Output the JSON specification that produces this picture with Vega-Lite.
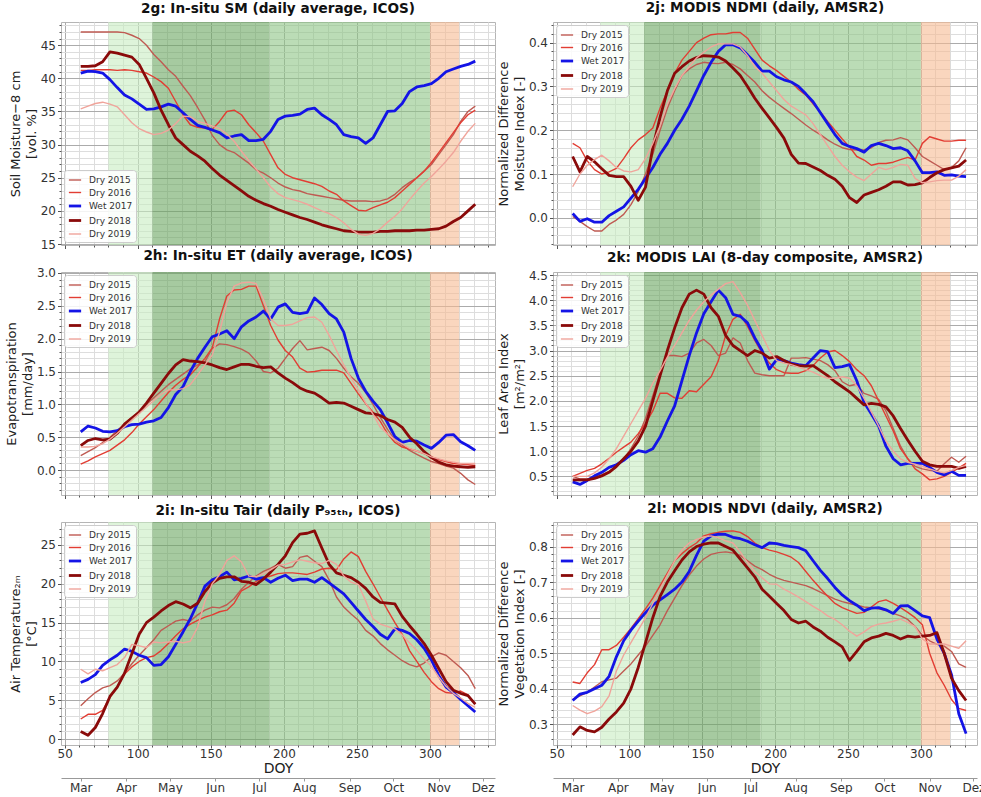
{
"$schema": "https://vega.github.io/schema/vega-lite/v6.json",
"padding": {"left": 4, "top": 0, "right": 0, "bottom": 0},
"datasets": {
"bands": [{"b":"a","x1":80,"x2":110},{"b":"b","x1":110,"x2":190},{"b":"c","x1":190,"x2":300},{"b":"d","x1":300,"x2":320}],
"g": [
{"d":61,"2015":47,"2016":41.2,"2017":40.8,"2018":41.8,"2019":35.4},
{"d":66,"2015":47,"2016":41.2,"2017":41.1,"2018":41.8,"2019":35.8},
{"d":71,"2015":47,"2016":41.3,"2017":41,"2018":41.9,"2019":36.2},
{"d":76,"2015":47,"2016":41.3,"2017":40.8,"2018":42.5,"2019":36.4},
{"d":81,"2015":47,"2016":41.3,"2017":39.8,"2018":44,"2019":36.1},
{"d":86,"2015":47,"2016":41.2,"2017":38.6,"2018":43.8,"2019":35.7},
{"d":91,"2015":46.9,"2016":41.3,"2017":37.5,"2018":43.5,"2019":34.5},
{"d":96,"2015":46.5,"2016":41.2,"2017":36.9,"2018":43.2,"2019":33.3},
{"d":101,"2015":46,"2016":41,"2017":36.1,"2018":42.1,"2019":32.4},
{"d":106,"2015":45,"2016":40.8,"2017":35.3,"2018":40,"2019":31.9},
{"d":111,"2015":43.6,"2016":40.2,"2017":35.4,"2018":37.8,"2019":31.5},
{"d":116,"2015":42.5,"2016":39.5,"2017":35.7,"2018":35.2,"2019":31.7},
{"d":121,"2015":41.3,"2016":38.5,"2017":36.1,"2018":33,"2019":32.2},
{"d":126,"2015":40.3,"2016":36.5,"2017":35.8,"2018":31,"2019":33.2},
{"d":131,"2015":38.8,"2016":34.5,"2017":34.8,"2018":30,"2019":34.3},
{"d":136,"2015":37.4,"2016":33,"2017":33.8,"2018":29,"2019":34.2},
{"d":141,"2015":35.6,"2016":32.6,"2017":32.9,"2018":28.3,"2019":33.5},
{"d":146,"2015":33.7,"2016":32.5,"2017":32.6,"2018":27.5,"2019":33.2},
{"d":151,"2015":31.4,"2016":32.3,"2017":32.2,"2018":26.4,"2019":32.8},
{"d":156,"2015":30,"2016":33.5,"2017":31.8,"2018":25.4,"2019":32.4},
{"d":161,"2015":29.2,"2016":35,"2017":31,"2018":24.6,"2019":31.6},
{"d":166,"2015":28.8,"2016":35.2,"2017":31.3,"2018":23.8,"2019":30.5},
{"d":171,"2015":28,"2016":34.5,"2017":31.5,"2018":23,"2019":29},
{"d":176,"2015":27.2,"2016":33,"2017":30.6,"2018":22.2,"2019":27.6},
{"d":181,"2015":26.2,"2016":31.8,"2017":30.6,"2018":21.6,"2019":26.3},
{"d":186,"2015":25.7,"2016":30.5,"2017":30.8,"2018":21.1,"2019":25},
{"d":191,"2015":25,"2016":28.5,"2017":32,"2018":20.7,"2019":23.6},
{"d":196,"2015":24.2,"2016":26.5,"2017":33.8,"2018":20.2,"2019":22.6},
{"d":201,"2015":23.6,"2016":25.5,"2017":34.3,"2018":19.8,"2019":22},
{"d":206,"2015":23.2,"2016":25,"2017":34.4,"2018":19.4,"2019":21.7},
{"d":211,"2015":23,"2016":24.7,"2017":34.6,"2018":19,"2019":21.4},
{"d":216,"2015":22.6,"2016":24.4,"2017":35.3,"2018":18.7,"2019":21},
{"d":221,"2015":22.4,"2016":24.1,"2017":35.5,"2018":18.3,"2019":20.5},
{"d":226,"2015":22.2,"2016":23.7,"2017":34.5,"2018":17.9,"2019":20},
{"d":231,"2015":22,"2016":23,"2017":33.8,"2018":17.6,"2019":19.6},
{"d":236,"2015":21.8,"2016":22.5,"2017":33,"2018":17.3,"2019":19},
{"d":241,"2015":21.6,"2016":21.5,"2017":31.5,"2018":17,"2019":18.2},
{"d":246,"2015":21.5,"2016":20.8,"2017":31.2,"2018":16.9,"2019":17.2},
{"d":251,"2015":21.5,"2016":20.1,"2017":31,"2018":16.8,"2019":16.5},
{"d":256,"2015":21.5,"2016":20,"2017":30.2,"2018":16.8,"2019":16.3},
{"d":261,"2015":21.4,"2016":20.5,"2017":31,"2018":16.8,"2019":16.6},
{"d":266,"2015":21.5,"2016":20.9,"2017":33,"2018":16.9,"2019":17.3},
{"d":271,"2015":21.8,"2016":21.3,"2017":35,"2018":16.9,"2019":18.3},
{"d":276,"2015":22.5,"2016":22,"2017":35.1,"2018":17,"2019":19.2},
{"d":281,"2015":23.5,"2016":23,"2017":36.2,"2018":17,"2019":20.3},
{"d":286,"2015":24.3,"2016":24,"2017":38,"2018":17,"2019":21.7},
{"d":291,"2015":25,"2016":25,"2017":38.7,"2018":17.1,"2019":23},
{"d":296,"2015":26,"2016":26,"2017":38.9,"2018":17.1,"2019":24.2},
{"d":301,"2015":27,"2016":27.3,"2017":39.2,"2018":17.2,"2019":25.2},
{"d":306,"2015":28.5,"2016":28.8,"2017":40,"2018":17.3,"2019":26.3},
{"d":311,"2015":30,"2016":30.3,"2017":41,"2018":17.7,"2019":27.5},
{"d":316,"2015":31.5,"2016":31.8,"2017":41.4,"2018":18.4,"2019":28.8},
{"d":321,"2015":33.5,"2016":33.3,"2017":41.8,"2018":19,"2019":30.5},
{"d":326,"2015":35,"2016":34.5,"2017":42.1,"2018":20,"2019":32},
{"d":331,"2015":35.8,"2016":35.2,"2017":42.6,"2018":21,"2019":33.2}
],
"h": [
{"d":61,"2015":0.22,"2016":0.09,"2017":0.58,"2018":0.37,"2019":0.35},
{"d":66,"2015":0.28,"2016":0.14,"2017":0.67,"2018":0.45,"2019":0.35},
{"d":71,"2015":0.34,"2016":0.2,"2017":0.64,"2018":0.48,"2019":0.36},
{"d":76,"2015":0.42,"2016":0.25,"2017":0.59,"2018":0.46,"2019":0.4},
{"d":81,"2015":0.5,"2016":0.3,"2017":0.58,"2018":0.47,"2019":0.47},
{"d":86,"2015":0.6,"2016":0.38,"2017":0.6,"2018":0.56,"2019":0.56},
{"d":91,"2015":0.71,"2016":0.46,"2017":0.66,"2018":0.7,"2019":0.66},
{"d":96,"2015":0.8,"2016":0.57,"2017":0.69,"2018":0.79,"2019":0.76},
{"d":101,"2015":0.9,"2016":0.7,"2017":0.7,"2018":0.88,"2019":0.86},
{"d":106,"2015":1.0,"2016":0.81,"2017":0.73,"2018":1.02,"2019":0.96},
{"d":111,"2015":1.1,"2016":0.92,"2017":0.75,"2018":1.17,"2019":1.06},
{"d":116,"2015":1.2,"2016":1.05,"2017":0.8,"2018":1.32,"2019":1.15},
{"d":121,"2015":1.3,"2016":1.18,"2017":0.95,"2018":1.47,"2019":1.22},
{"d":126,"2015":1.38,"2016":1.29,"2017":1.15,"2018":1.6,"2019":1.22},
{"d":131,"2015":1.46,"2016":1.38,"2017":1.27,"2018":1.68,"2019":1.24},
{"d":136,"2015":1.54,"2016":1.45,"2017":1.5,"2018":1.66,"2019":1.3},
{"d":141,"2015":1.6,"2016":1.57,"2017":1.7,"2018":1.65,"2019":1.45},
{"d":146,"2015":1.65,"2016":1.7,"2017":1.87,"2018":1.63,"2019":1.6},
{"d":151,"2015":1.85,"2016":1.86,"2017":2.03,"2018":1.6,"2019":1.75},
{"d":156,"2015":1.92,"2016":2.3,"2017":2.07,"2018":1.56,"2019":2.1},
{"d":161,"2015":1.91,"2016":2.65,"2017":2.12,"2018":1.53,"2019":2.55},
{"d":166,"2015":1.88,"2016":2.74,"2017":2.0,"2018":1.57,"2019":2.8},
{"d":171,"2015":1.84,"2016":2.75,"2017":2.18,"2018":1.61,"2019":2.85},
{"d":176,"2015":1.78,"2016":2.8,"2017":2.27,"2018":1.61,"2019":2.86},
{"d":181,"2015":1.66,"2016":2.8,"2017":2.33,"2018":1.58,"2019":2.84},
{"d":186,"2015":1.5,"2016":2.5,"2017":2.42,"2018":1.56,"2019":2.6},
{"d":191,"2015":1.48,"2016":2.2,"2017":2.3,"2018":1.57,"2019":2.3},
{"d":196,"2015":1.55,"2016":1.98,"2017":2.48,"2018":1.48,"2019":2.2},
{"d":201,"2015":1.7,"2016":1.82,"2017":2.53,"2018":1.4,"2019":2.2},
{"d":206,"2015":1.85,"2016":1.72,"2017":2.4,"2018":1.33,"2019":2.22},
{"d":211,"2015":1.97,"2016":1.55,"2017":2.38,"2018":1.25,"2019":2.27},
{"d":216,"2015":1.83,"2016":1.49,"2017":2.4,"2018":1.2,"2019":2.32},
{"d":221,"2015":1.85,"2016":1.5,"2017":2.62,"2018":1.17,"2019":2.33},
{"d":226,"2015":1.87,"2016":1.52,"2017":2.52,"2018":1.1,"2019":2.25},
{"d":231,"2015":1.82,"2016":1.52,"2017":2.38,"2018":1.02,"2019":2.05},
{"d":236,"2015":1.7,"2016":1.52,"2017":2.3,"2018":1.03,"2019":1.82},
{"d":241,"2015":1.55,"2016":1.48,"2017":2.1,"2018":1.02,"2019":1.6},
{"d":246,"2015":1.42,"2016":1.32,"2017":1.7,"2018":0.97,"2019":1.4},
{"d":251,"2015":1.32,"2016":1.16,"2017":1.4,"2018":0.92,"2019":1.22},
{"d":256,"2015":1.18,"2016":1.01,"2017":1.2,"2018":0.87,"2019":1.02},
{"d":261,"2015":1.0,"2016":0.88,"2017":1.05,"2018":0.86,"2019":0.85},
{"d":266,"2015":0.8,"2016":0.74,"2017":0.92,"2018":0.83,"2019":0.65},
{"d":271,"2015":0.62,"2016":0.55,"2017":0.72,"2018":0.77,"2019":0.55},
{"d":276,"2015":0.46,"2016":0.42,"2017":0.51,"2018":0.73,"2019":0.46},
{"d":281,"2015":0.38,"2016":0.35,"2017":0.42,"2018":0.65,"2019":0.4},
{"d":286,"2015":0.3,"2016":0.32,"2017":0.45,"2018":0.5,"2019":0.33},
{"d":291,"2015":0.24,"2016":0.29,"2017":0.44,"2018":0.4,"2019":0.29},
{"d":296,"2015":0.18,"2016":0.25,"2017":0.38,"2018":0.28,"2019":0.25},
{"d":301,"2015":0.13,"2016":0.2,"2017":0.33,"2018":0.19,"2019":0.2},
{"d":306,"2015":0.1,"2016":0.16,"2017":0.42,"2018":0.12,"2019":0.17},
{"d":311,"2015":0.06,"2016":0.13,"2017":0.53,"2018":0.08,"2019":0.14},
{"d":316,"2015":0.03,"2016":0.1,"2017":0.54,"2018":0.06,"2019":0.12},
{"d":321,"2015":-0.05,"2016":0.09,"2017":0.43,"2018":0.05,"2019":0.1},
{"d":326,"2015":-0.15,"2016":0.08,"2017":0.37,"2018":0.04,"2019":0.1},
{"d":331,"2015":-0.22,"2016":0.07,"2017":0.3,"2018":0.05,"2019":0.1}
],
"i": [
{"d":61,"2015":4.3,"2016":2.6,"2017":7.3,"2018":1,"2019":9},
{"d":66,"2015":5.2,"2016":3.2,"2017":7.7,"2018":0.5,"2019":8.4},
{"d":71,"2015":6,"2016":3.2,"2017":8.3,"2018":1.5,"2019":9},
{"d":76,"2015":6.6,"2016":3.7,"2017":9.5,"2018":3.3,"2019":8.8},
{"d":81,"2015":6.9,"2016":5.4,"2017":10.2,"2018":5.5,"2019":9.2},
{"d":86,"2015":7.5,"2016":6.7,"2017":10.8,"2018":6.7,"2019":9.6},
{"d":91,"2015":8.5,"2016":8.4,"2017":11.6,"2018":8.5,"2019":10.5},
{"d":96,"2015":9.7,"2016":9.3,"2017":11.3,"2018":11,"2019":12.2},
{"d":101,"2015":10.8,"2016":10,"2017":10.8,"2018":13.5,"2019":12},
{"d":106,"2015":11.8,"2016":10.5,"2017":10.5,"2018":15,"2019":11.8},
{"d":111,"2015":12.8,"2016":10.7,"2017":9.5,"2018":15.7,"2019":12.5},
{"d":116,"2015":14,"2016":11.4,"2017":9.6,"2018":16.5,"2019":12.4},
{"d":121,"2015":14.6,"2016":12.3,"2017":10.6,"2018":17.2,"2019":12.5},
{"d":126,"2015":15.2,"2016":13.3,"2017":12.2,"2018":17.7,"2019":12.6},
{"d":131,"2015":15.4,"2016":14.2,"2017":13.8,"2018":17.4,"2019":12.4},
{"d":136,"2015":15.2,"2016":14.8,"2017":15.5,"2018":16.9,"2019":12.6},
{"d":141,"2015":16,"2016":15.3,"2017":17.5,"2018":17.5,"2019":14.4},
{"d":146,"2015":16.6,"2016":15.7,"2017":19.7,"2018":19,"2019":17.8},
{"d":151,"2015":17,"2016":16,"2017":20.5,"2018":20.1,"2019":20},
{"d":156,"2015":16.9,"2016":16.4,"2017":20.9,"2018":20.7,"2019":21.2},
{"d":161,"2015":17.3,"2016":16.6,"2017":21.5,"2018":20.9,"2019":23},
{"d":166,"2015":18.1,"2016":17.5,"2017":20.5,"2018":20.9,"2019":23.6},
{"d":171,"2015":19.3,"2016":19.1,"2017":20.7,"2018":20.3,"2019":22.8},
{"d":176,"2015":20.2,"2016":19.6,"2017":21,"2018":20.2,"2019":21},
{"d":181,"2015":21,"2016":20.3,"2017":20.6,"2018":19.9,"2019":20.9},
{"d":186,"2015":21.6,"2016":20.8,"2017":20.8,"2018":20.6,"2019":21.3},
{"d":191,"2015":22,"2016":21,"2017":20.2,"2018":21.5,"2019":21.8},
{"d":196,"2015":22.5,"2016":21.3,"2017":20.7,"2018":22.5,"2019":22.4},
{"d":201,"2015":22,"2016":21.4,"2017":21.1,"2018":23.6,"2019":22.5},
{"d":206,"2015":22.2,"2016":21.4,"2017":20.4,"2018":25.3,"2019":22.8},
{"d":211,"2015":23.4,"2016":21.3,"2017":20.6,"2018":26.4,"2019":23.1},
{"d":216,"2015":23.6,"2016":21.2,"2017":20.6,"2018":26.5,"2019":22.9},
{"d":221,"2015":22.9,"2016":21.5,"2017":20.2,"2018":26.8,"2019":22.7},
{"d":226,"2015":22.2,"2016":21.9,"2017":20.8,"2018":24.6,"2019":22.6},
{"d":231,"2015":20.5,"2016":22,"2017":20.1,"2018":22.5,"2019":23},
{"d":236,"2015":18.3,"2016":21.8,"2017":19.4,"2018":21.4,"2019":22.5},
{"d":241,"2015":17,"2016":23.2,"2017":18.7,"2018":21.1,"2019":21},
{"d":246,"2015":16.1,"2016":24.1,"2017":17.6,"2018":20.8,"2019":20.2},
{"d":251,"2015":15.3,"2016":23.5,"2017":16.5,"2018":20.2,"2019":19.9},
{"d":256,"2015":14,"2016":21.6,"2017":15.4,"2018":19.4,"2019":17.8},
{"d":261,"2015":13.3,"2016":20,"2017":14.5,"2018":18.3,"2019":15.5},
{"d":266,"2015":12.3,"2016":18.3,"2017":13.5,"2018":17.6,"2019":14.8},
{"d":271,"2015":11.5,"2016":16.6,"2017":12.9,"2018":17.5,"2019":14.5},
{"d":276,"2015":10.8,"2016":15,"2017":14.2,"2018":17.4,"2019":14.2},
{"d":281,"2015":10.1,"2016":13.5,"2017":14,"2018":15.8,"2019":13.4},
{"d":286,"2015":9.6,"2016":11.4,"2017":13.6,"2018":14.6,"2019":12.4},
{"d":291,"2015":9.3,"2016":10,"2017":12.8,"2018":13.5,"2019":11.4},
{"d":296,"2015":9.8,"2016":8.6,"2017":11.7,"2018":12.3,"2019":10.3},
{"d":301,"2015":10.6,"2016":7.4,"2017":10.2,"2018":10.8,"2019":9.4},
{"d":306,"2015":11.1,"2016":6.5,"2017":8.2,"2018":9.1,"2019":8},
{"d":311,"2015":10.8,"2016":6,"2017":6.7,"2018":7.4,"2019":6.8},
{"d":316,"2015":10,"2016":5.9,"2017":6,"2018":6.3,"2019":5.9},
{"d":321,"2015":9.2,"2016":6.2,"2017":5.1,"2018":5.9,"2019":5.3},
{"d":326,"2015":8.2,"2016":5.7,"2017":4.3,"2018":5.6,"2019":4.6},
{"d":331,"2015":6.5,"2016":4.5,"2017":3.5,"2018":4.5,"2019":4.1}
],
"j": [
{"d":61,"2015":0.003,"2016":0.17,"2017":0.01,"2018":0.14,"2019":0.071},
{"d":66,"2015":-0.008,"2016":0.16,"2017":-0.008,"2018":0.105,"2019":0.1},
{"d":71,"2015":-0.02,"2016":0.13,"2017":-0.002,"2018":0.14,"2019":0.12},
{"d":76,"2015":-0.03,"2016":0.11,"2017":-0.01,"2018":0.128,"2019":0.133},
{"d":81,"2015":-0.03,"2016":0.1,"2017":-0.01,"2018":0.112,"2019":0.143},
{"d":86,"2015":-0.015,"2016":0.105,"2017":0.005,"2018":0.097,"2019":0.13},
{"d":91,"2015":-0.005,"2016":0.113,"2017":0.015,"2018":0.094,"2019":0.115},
{"d":96,"2015":0.008,"2016":0.135,"2017":0.025,"2018":0.094,"2019":0.107},
{"d":101,"2015":0.03,"2016":0.16,"2017":0.045,"2018":0.072,"2019":0.105},
{"d":106,"2015":0.06,"2016":0.178,"2017":0.065,"2018":0.04,"2019":0.11},
{"d":111,"2015":0.1,"2016":0.19,"2017":0.09,"2018":0.07,"2019":0.135},
{"d":116,"2015":0.145,"2016":0.205,"2017":0.115,"2018":0.16,"2019":0.17},
{"d":121,"2015":0.2,"2016":0.25,"2017":0.145,"2018":0.23,"2019":0.21},
{"d":126,"2015":0.25,"2016":0.29,"2017":0.17,"2018":0.29,"2019":0.26},
{"d":131,"2015":0.29,"2016":0.33,"2017":0.2,"2018":0.33,"2019":0.295},
{"d":136,"2015":0.325,"2016":0.36,"2017":0.225,"2018":0.345,"2019":0.325},
{"d":141,"2015":0.34,"2016":0.38,"2017":0.255,"2018":0.358,"2019":0.345},
{"d":146,"2015":0.35,"2016":0.4,"2017":0.29,"2018":0.366,"2019":0.365},
{"d":151,"2015":0.355,"2016":0.41,"2017":0.325,"2018":0.37,"2019":0.378},
{"d":156,"2015":0.353,"2016":0.418,"2017":0.355,"2018":0.369,"2019":0.39},
{"d":161,"2015":0.352,"2016":0.42,"2017":0.38,"2018":0.367,"2019":0.397},
{"d":166,"2015":0.355,"2016":0.42,"2017":0.395,"2018":0.358,"2019":0.397},
{"d":171,"2015":0.35,"2016":0.423,"2017":0.395,"2018":0.342,"2019":0.397},
{"d":176,"2015":0.34,"2016":0.423,"2017":0.388,"2018":0.325,"2019":0.39},
{"d":181,"2015":0.325,"2016":0.41,"2017":0.372,"2018":0.3,"2019":0.37},
{"d":186,"2015":0.31,"2016":0.385,"2017":0.355,"2018":0.273,"2019":0.345},
{"d":191,"2015":0.29,"2016":0.36,"2017":0.335,"2018":0.25,"2019":0.33},
{"d":196,"2015":0.275,"2016":0.347,"2017":0.335,"2018":0.228,"2019":0.31},
{"d":201,"2015":0.262,"2016":0.336,"2017":0.322,"2018":0.206,"2019":0.29},
{"d":206,"2015":0.25,"2016":0.323,"2017":0.315,"2018":0.182,"2019":0.27},
{"d":211,"2015":0.238,"2016":0.31,"2017":0.31,"2018":0.145,"2019":0.255},
{"d":216,"2015":0.225,"2016":0.293,"2017":0.3,"2018":0.125,"2019":0.245},
{"d":221,"2015":0.212,"2016":0.28,"2017":0.283,"2018":0.124,"2019":0.235},
{"d":226,"2015":0.2,"2016":0.26,"2017":0.265,"2018":0.116,"2019":0.215},
{"d":231,"2015":0.19,"2016":0.242,"2017":0.24,"2018":0.108,"2019":0.19},
{"d":236,"2015":0.178,"2016":0.22,"2017":0.215,"2018":0.097,"2019":0.165},
{"d":241,"2015":0.168,"2016":0.2,"2017":0.19,"2018":0.088,"2019":0.14},
{"d":246,"2015":0.16,"2016":0.18,"2017":0.17,"2018":0.072,"2019":0.12},
{"d":251,"2015":0.156,"2016":0.162,"2017":0.163,"2018":0.046,"2019":0.105},
{"d":256,"2015":0.155,"2016":0.14,"2017":0.158,"2018":0.035,"2019":0.093},
{"d":261,"2015":0.155,"2016":0.132,"2017":0.15,"2018":0.052,"2019":0.085},
{"d":266,"2015":0.16,"2016":0.12,"2017":0.165,"2018":0.058,"2019":0.1},
{"d":271,"2015":0.172,"2016":0.124,"2017":0.17,"2018":0.064,"2019":0.115},
{"d":276,"2015":0.177,"2016":0.124,"2017":0.165,"2018":0.072,"2019":0.11},
{"d":281,"2015":0.178,"2016":0.127,"2017":0.158,"2018":0.082,"2019":0.115},
{"d":286,"2015":0.183,"2016":0.133,"2017":0.16,"2018":0.082,"2019":0.122},
{"d":291,"2015":0.178,"2016":0.138,"2017":0.153,"2018":0.075,"2019":0.12},
{"d":296,"2015":0.16,"2016":0.132,"2017":0.13,"2018":0.076,"2019":0.09},
{"d":301,"2015":0.14,"2016":0.17,"2017":0.103,"2018":0.08,"2019":0.08},
{"d":306,"2015":0.13,"2016":0.185,"2017":0.103,"2018":0.092,"2019":0.082},
{"d":311,"2015":0.12,"2016":0.18,"2017":0.105,"2018":0.103,"2019":0.085},
{"d":316,"2015":0.11,"2016":0.175,"2017":0.097,"2018":0.11,"2019":0.086},
{"d":321,"2015":0.115,"2016":0.175,"2017":0.098,"2018":0.114,"2019":0.086},
{"d":326,"2015":0.13,"2016":0.177,"2017":0.095,"2018":0.118,"2019":0.095},
{"d":331,"2015":0.16,"2016":0.177,"2017":0.094,"2018":0.132,"2019":0.11}
],
"k": [
{"d":61,"2015":0.5,"2016":0.5,"2017":0.39,"2018":0.43,"2019":0.5},
{"d":66,"2015":0.45,"2016":0.56,"2017":0.34,"2018":0.43,"2019":0.5},
{"d":71,"2015":0.45,"2016":0.62,"2017":0.42,"2018":0.43,"2019":0.5},
{"d":76,"2015":0.48,"2016":0.66,"2017":0.51,"2018":0.46,"2019":0.57},
{"d":81,"2015":0.53,"2016":0.75,"2017":0.58,"2018":0.51,"2019":0.68},
{"d":86,"2015":0.6,"2016":0.86,"2017":0.68,"2018":0.58,"2019":0.85},
{"d":91,"2015":0.68,"2016":0.98,"2017":0.73,"2018":0.7,"2019":1.05},
{"d":96,"2015":0.84,"2016":1.08,"2017":0.82,"2018":0.85,"2019":1.3},
{"d":101,"2015":1.05,"2016":1.18,"2017":0.93,"2018":1.0,"2019":1.55},
{"d":106,"2015":1.3,"2016":1.35,"2017":1.01,"2018":1.2,"2019":1.8},
{"d":111,"2015":1.65,"2016":1.55,"2017":0.98,"2018":1.5,"2019":2.05},
{"d":116,"2015":2.1,"2016":1.8,"2017":1.05,"2018":2.0,"2019":2.35},
{"d":121,"2015":2.55,"2016":2.15,"2017":1.28,"2018":2.5,"2019":2.6},
{"d":126,"2015":2.9,"2016":2.15,"2017":1.6,"2018":3.0,"2019":2.87},
{"d":131,"2015":2.9,"2016":2.06,"2017":1.9,"2018":3.45,"2019":3.1},
{"d":136,"2015":2.88,"2016":2.05,"2017":2.4,"2018":3.85,"2019":3.35},
{"d":141,"2015":2.95,"2016":2.2,"2017":2.9,"2018":4.12,"2019":3.6},
{"d":146,"2015":3.15,"2016":2.18,"2017":3.35,"2018":4.2,"2019":3.8},
{"d":151,"2015":3.22,"2016":2.33,"2017":3.73,"2018":4.12,"2019":3.97},
{"d":156,"2015":3.1,"2016":2.48,"2017":3.97,"2018":3.85,"2019":4.1},
{"d":161,"2015":2.9,"2016":2.8,"2017":4.2,"2018":3.68,"2019":4.22},
{"d":166,"2015":2.95,"2016":3.3,"2017":4.05,"2018":3.3,"2019":4.33},
{"d":171,"2015":3.25,"2016":3.62,"2017":3.72,"2018":3.1,"2019":4.37},
{"d":176,"2015":3.15,"2016":3.72,"2017":3.68,"2018":3.0,"2019":4.15},
{"d":181,"2015":2.8,"2016":3.48,"2017":3.55,"2018":2.9,"2019":3.9},
{"d":186,"2015":2.55,"2016":3.2,"2017":3.25,"2018":3.0,"2019":3.6},
{"d":191,"2015":2.52,"2016":2.95,"2017":3.0,"2018":2.95,"2019":3.3},
{"d":196,"2015":2.5,"2016":2.75,"2017":2.63,"2018":2.85,"2019":3.0},
{"d":201,"2015":2.5,"2016":2.62,"2017":2.82,"2018":2.88,"2019":2.8},
{"d":206,"2015":2.5,"2016":2.56,"2017":2.8,"2018":2.8,"2019":2.75},
{"d":211,"2015":2.85,"2016":2.55,"2017":2.75,"2018":2.73,"2019":2.72},
{"d":216,"2015":2.85,"2016":2.55,"2017":2.72,"2018":2.7,"2019":2.67},
{"d":221,"2015":2.86,"2016":2.6,"2017":2.7,"2018":2.69,"2019":2.62},
{"d":226,"2015":2.83,"2016":2.7,"2017":2.85,"2018":2.7,"2019":2.57},
{"d":231,"2015":2.8,"2016":2.85,"2017":3.0,"2018":2.6,"2019":2.5},
{"d":236,"2015":2.72,"2016":2.97,"2017":2.98,"2018":2.5,"2019":2.45},
{"d":241,"2015":2.6,"2016":3.0,"2017":2.66,"2018":2.38,"2019":2.45},
{"d":246,"2015":2.38,"2016":2.9,"2017":2.68,"2018":2.28,"2019":2.48},
{"d":251,"2015":2.3,"2016":2.78,"2017":2.72,"2018":2.18,"2019":2.45},
{"d":256,"2015":2.33,"2016":2.62,"2017":2.4,"2018":2.05,"2019":2.3},
{"d":261,"2015":2.15,"2016":2.5,"2017":1.97,"2018":1.92,"2019":2.05},
{"d":266,"2015":2.1,"2016":2.3,"2017":1.74,"2018":1.95,"2019":1.78},
{"d":271,"2015":2.03,"2016":2.0,"2017":1.5,"2018":1.93,"2019":1.5},
{"d":276,"2015":1.8,"2016":1.7,"2017":1.1,"2018":1.88,"2019":1.2},
{"d":281,"2015":1.45,"2016":1.4,"2017":0.85,"2018":1.7,"2019":1.0},
{"d":286,"2015":1.1,"2016":1.05,"2017":0.73,"2018":1.45,"2019":0.85},
{"d":291,"2015":0.85,"2016":0.85,"2017":0.76,"2018":1.22,"2019":0.78},
{"d":296,"2015":0.7,"2016":0.65,"2017":0.76,"2018":1.0,"2019":0.74},
{"d":301,"2015":0.65,"2016":0.55,"2017":0.76,"2018":0.8,"2019":0.7},
{"d":306,"2015":0.62,"2016":0.43,"2017":0.68,"2018":0.73,"2019":0.65},
{"d":311,"2015":0.6,"2016":0.45,"2017":0.58,"2018":0.7,"2019":0.6},
{"d":316,"2015":0.75,"2016":0.5,"2017":0.53,"2018":0.7,"2019":0.57},
{"d":321,"2015":0.88,"2016":0.58,"2017":0.6,"2018":0.7,"2019":0.62},
{"d":326,"2015":0.78,"2016":0.67,"2017":0.52,"2018":0.66,"2019":0.68},
{"d":331,"2015":0.9,"2016":0.76,"2017":0.52,"2018":0.7,"2019":0.72}
],
"l": [
{"d":61,"2015":0.37,"2016":0.419,"2017":0.367,"2018":0.27,"2019":0.353},
{"d":66,"2015":0.38,"2016":0.415,"2017":0.385,"2018":0.293,"2019":0.34},
{"d":71,"2015":0.39,"2016":0.445,"2017":0.39,"2018":0.283,"2019":0.33},
{"d":76,"2015":0.405,"2016":0.468,"2017":0.4,"2018":0.279,"2019":0.337},
{"d":81,"2015":0.42,"2016":0.51,"2017":0.41,"2018":0.292,"2019":0.35},
{"d":86,"2015":0.425,"2016":0.51,"2017":0.435,"2018":0.315,"2019":0.38},
{"d":91,"2015":0.43,"2016":0.522,"2017":0.49,"2018":0.335,"2019":0.45},
{"d":96,"2015":0.45,"2016":0.545,"2017":0.535,"2018":0.36,"2019":0.495},
{"d":101,"2015":0.47,"2016":0.57,"2017":0.565,"2018":0.4,"2019":0.53},
{"d":106,"2015":0.495,"2016":0.597,"2017":0.59,"2018":0.46,"2019":0.565},
{"d":111,"2015":0.52,"2016":0.625,"2017":0.614,"2018":0.53,"2019":0.6},
{"d":116,"2015":0.55,"2016":0.655,"2017":0.635,"2018":0.6,"2019":0.64},
{"d":121,"2015":0.58,"2016":0.69,"2017":0.65,"2018":0.66,"2019":0.68},
{"d":126,"2015":0.62,"2016":0.725,"2017":0.665,"2018":0.7,"2019":0.72},
{"d":131,"2015":0.655,"2016":0.76,"2017":0.68,"2018":0.732,"2019":0.76},
{"d":136,"2015":0.69,"2016":0.78,"2017":0.7,"2018":0.762,"2019":0.79},
{"d":141,"2015":0.72,"2016":0.797,"2017":0.73,"2018":0.785,"2019":0.81},
{"d":146,"2015":0.745,"2016":0.81,"2017":0.775,"2018":0.8,"2019":0.82},
{"d":151,"2015":0.765,"2016":0.83,"2017":0.815,"2018":0.807,"2019":0.827},
{"d":156,"2015":0.778,"2016":0.836,"2017":0.83,"2018":0.81,"2019":0.83},
{"d":161,"2015":0.783,"2016":0.84,"2017":0.835,"2018":0.81,"2019":0.825},
{"d":166,"2015":0.785,"2016":0.843,"2017":0.834,"2018":0.8,"2019":0.816},
{"d":171,"2015":0.782,"2016":0.844,"2017":0.826,"2018":0.79,"2019":0.81},
{"d":176,"2015":0.775,"2016":0.84,"2017":0.822,"2018":0.765,"2019":0.785},
{"d":181,"2015":0.76,"2016":0.828,"2017":0.815,"2018":0.74,"2019":0.755},
{"d":186,"2015":0.745,"2016":0.81,"2017":0.805,"2018":0.715,"2019":0.73},
{"d":191,"2015":0.735,"2016":0.797,"2017":0.797,"2018":0.68,"2019":0.712},
{"d":196,"2015":0.722,"2016":0.79,"2017":0.81,"2018":0.66,"2019":0.695},
{"d":201,"2015":0.712,"2016":0.785,"2017":0.808,"2018":0.64,"2019":0.694},
{"d":206,"2015":0.705,"2016":0.778,"2017":0.803,"2018":0.62,"2019":0.68},
{"d":211,"2015":0.7,"2016":0.77,"2017":0.8,"2018":0.595,"2019":0.67},
{"d":216,"2015":0.695,"2016":0.755,"2017":0.797,"2018":0.585,"2019":0.658},
{"d":221,"2015":0.69,"2016":0.73,"2017":0.788,"2018":0.59,"2019":0.645},
{"d":226,"2015":0.682,"2016":0.705,"2017":0.76,"2018":0.574,"2019":0.632},
{"d":231,"2015":0.672,"2016":0.682,"2017":0.733,"2018":0.562,"2019":0.62},
{"d":236,"2015":0.662,"2016":0.66,"2017":0.71,"2018":0.545,"2019":0.605},
{"d":241,"2015":0.652,"2016":0.64,"2017":0.685,"2018":0.532,"2019":0.595},
{"d":246,"2015":0.645,"2016":0.628,"2017":0.664,"2018":0.518,"2019":0.58},
{"d":251,"2015":0.64,"2016":0.62,"2017":0.648,"2018":0.48,"2019":0.562},
{"d":256,"2015":0.635,"2016":0.612,"2017":0.635,"2018":0.505,"2019":0.548},
{"d":261,"2015":0.63,"2016":0.615,"2017":0.62,"2018":0.532,"2019":0.56},
{"d":266,"2015":0.628,"2016":0.63,"2017":0.627,"2018":0.543,"2019":0.575},
{"d":271,"2015":0.625,"2016":0.645,"2017":0.628,"2018":0.548,"2019":0.582},
{"d":276,"2015":0.62,"2016":0.65,"2017":0.622,"2018":0.556,"2019":0.585},
{"d":281,"2015":0.612,"2016":0.64,"2017":0.612,"2018":0.55,"2019":0.59},
{"d":286,"2015":0.605,"2016":0.628,"2017":0.633,"2018":0.54,"2019":0.596},
{"d":291,"2015":0.595,"2016":0.615,"2017":0.634,"2018":0.548,"2019":0.587},
{"d":296,"2015":0.575,"2016":0.6,"2017":0.62,"2018":0.545,"2019":0.575},
{"d":301,"2015":0.55,"2016":0.58,"2017":0.605,"2018":0.548,"2019":0.54},
{"d":306,"2015":0.535,"2016":0.5,"2017":0.6,"2018":0.55,"2019":0.526},
{"d":311,"2015":0.525,"2016":0.445,"2017":0.54,"2018":0.558,"2019":0.526},
{"d":316,"2015":0.52,"2016":0.41,"2017":0.5,"2018":0.5,"2019":0.526},
{"d":321,"2015":0.505,"2016":0.37,"2017":0.44,"2018":0.43,"2019":0.52},
{"d":326,"2015":0.47,"2016":0.345,"2017":0.33,"2018":0.395,"2019":0.514},
{"d":331,"2015":0.46,"2016":0.339,"2017":0.274,"2018":0.367,"2019":0.535}
]
},
"config": {
"font": "DejaVu Sans",
"view": {"stroke": "#b5b5b5", "strokeWidth": 1},
"title": {"fontSize": 13.6, "fontWeight": "bold", "color": "#111111", "offset": 4, "font": "DejaVu Sans"},
"axis": {"labelFontSize": 12, "labelColor": "#333333", "titleFontSize": 13, "titleFontWeight": "normal", "titleColor": "#222222", "domain": false, "tickColor": "#555555", "labelFont": "DejaVu Sans", "titleFont": "DejaVu Sans", "labelOverlap": false, "labelBound": false, "labelFlush": false, "gridWidth": 1, "grid": true},
"legend": {"fillColor": "rgba(255,255,255,0.85)", "strokeColor": "#cccccc", "padding": 3, "cornerRadius": 3, "labelFontSize": 9, "labelColor": "#333333", "symbolType": "stroke", "symbolSize": 150, "rowPadding": 0.5, "offset": 3, "labelFont": "DejaVu Sans", "labelOffset": 6}
},
"columns": 2,
"spacing": {"row": 27, "column": 58},
"bounds": "flush",
"resolve": {"scale": {"x": "independent", "y": "independent", "color": "independent", "strokeWidth": "independent", "fill": "independent"}, "axis": {"x": "independent", "y": "independent"}, "legend": {"color": "independent", "strokeWidth": "independent"}},
"concat": [
{"width": 434, "height": 223, "title": "2g: In-situ SM (daily average, ICOS)",
 "resolve": {"axis": {"x": "independent"}},
 "layer": [
  {"data": {"name": "bands"}, "mark": {"type": "rect", "opacity": 0.6},
   "encoding": {"x": {"field": "x1", "type": "quantitative", "scale": {"domain": [47.5, 344.5], "nice": false, "zero": false}, "axis": null}, "x2": {"field": "x2"},
    "fill": {"field": "b", "type": "nominal", "scale": {"domain": ["a","b","c","d"], "range": ["#c8ecc1","#6aa660","#8ec486","#f7bb93"]}, "legend": null}}},
  {"data": {"name": "g"}, "transform": [{"fold": ["2015","2016","2017","2018","2019"], "as": ["s","v"]}],
   "mark": {"type": "line", "strokeJoin": "round"},
   "encoding": {
    "x": {"field": "d", "type": "quantitative", "scale": {"domain": [47.5, 344.5], "nice": false, "zero": false},
     "axis": {"grid": true, "values": [50,60,70,80,90,100,110,120,130,140,150,160,170,180,190,200,210,220,230,240,250,260,270,280,290,300,310,320,330,340], "labelExpr": "''", "title": null,
      "gridColor": {"condition": {"test": "datum.value % 50 === 0", "value": "#ababab"}, "value": "#dddddd"},
      "tickSize": {"condition": {"test": "datum.value % 50 === 0", "value": 3.5}, "value": 2}}},
    "y": {"field": "v", "type": "quantitative", "scale": {"domain": [14.85, 48.5], "nice": false, "zero": false},
     "axis": {"grid": true, "values": [15,16,17,18,19,20,21,22,23,24,25,26,27,28,29,30,31,32,33,34,35,36,37,38,39,40,41,42,43,44,45,46,47,48], "labelExpr": "datum.value % 5 === 0 ? datum.label : ''",
      "gridColor": {"condition": {"test": "datum.value % 5 === 0", "value": "#ababab"}, "value": "#dddddd"},
      "tickSize": {"condition": {"test": "datum.value % 5 === 0", "value": 3.5}, "value": 2},
      "title": ["Soil Moisture−8 cm", "[vol. %]"], "titleLineHeight": 16, "titlePadding": 2, "labelPadding": 2}},
    "color": {"field": "s", "type": "nominal", "scale": {"domain": ["2015","2016","2017","2018","2019"], "range": ["#bf5a52","#e23d33","#1414e6","#8a0a0a","#f0a49b"]},
     "legend": {"orient": "bottom-left", "title": null, "labelExpr": "datum.label === '2017' ? 'Wet 2017' : 'Dry ' + datum.label"}},
    "strokeWidth": {"field": "s", "type": "nominal", "scale": {"type": "ordinal", "domain": ["2015","2016","2017","2018","2019"], "range": [1.4,1.4,2.8,2.8,1.4]},
     "legend": {"orient": "bottom-left", "title": null, "labelExpr": "datum.label === '2017' ? 'Wet 2017' : 'Dry ' + datum.label"}}
   }}
 ]},
{"width": 424, "height": 223, "title": "2j: MODIS NDMI (daily, AMSR2)",
 "resolve": {"axis": {"x": "independent"}},
 "layer": [
  {"data": {"name": "bands"}, "mark": {"type": "rect", "opacity": 0.6},
   "encoding": {"x": {"field": "x1", "type": "quantitative", "scale": {"domain": [47.5, 338.5], "nice": false, "zero": false}, "axis": null}, "x2": {"field": "x2"},
    "fill": {"field": "b", "type": "nominal", "scale": {"domain": ["a","b","c","d"], "range": ["#c8ecc1","#6aa660","#8ec486","#f7bb93"]}, "legend": null}}},
  {"data": {"name": "j"}, "transform": [{"fold": ["2015","2016","2017","2018","2019"], "as": ["s","v"]}],
   "mark": {"type": "line", "strokeJoin": "round"},
   "encoding": {
    "x": {"field": "d", "type": "quantitative", "scale": {"domain": [47.5, 338.5], "nice": false, "zero": false},
     "axis": {"grid": true, "values": [50,60,70,80,90,100,110,120,130,140,150,160,170,180,190,200,210,220,230,240,250,260,270,280,290,300,310,320,330], "labelExpr": "''", "title": null,
      "gridColor": {"condition": {"test": "datum.value % 50 === 0", "value": "#ababab"}, "value": "#dddddd"},
      "tickSize": {"condition": {"test": "datum.value % 50 === 0", "value": 3.5}, "value": 2}}},
    "y": {"field": "v", "type": "quantitative", "scale": {"domain": [-0.062, 0.447], "nice": false, "zero": false},
     "axis": {"grid": true, "values": [-0.06,-0.04,-0.02,0,0.02,0.04,0.06,0.08,0.1,0.12,0.14,0.16,0.18,0.2,0.22,0.24,0.26,0.28,0.3,0.32,0.34,0.36,0.38,0.4,0.42,0.44], "format": ".1f", "labelExpr": "abs(round(datum.value*100)) % 10 === 0 ? datum.label : ''",
      "gridColor": {"condition": {"test": "abs(round(datum.value*100)) % 10 === 0", "value": "#ababab"}, "value": "#dddddd"},
      "tickSize": {"condition": {"test": "abs(round(datum.value*100)) % 10 === 0", "value": 3.5}, "value": 2},
      "title": ["Normalized Difference", "Moisture Index [-]"], "titleLineHeight": 16, "titlePadding": 2, "labelPadding": 2}},
    "color": {"field": "s", "type": "nominal", "scale": {"domain": ["2015","2016","2017","2018","2019"], "range": ["#bf5a52","#e23d33","#1414e6","#8a0a0a","#f0a49b"]},
     "legend": {"orient": "top-left", "title": null, "labelExpr": "datum.label === '2017' ? 'Wet 2017' : 'Dry ' + datum.label"}},
    "strokeWidth": {"field": "s", "type": "nominal", "scale": {"type": "ordinal", "domain": ["2015","2016","2017","2018","2019"], "range": [1.4,1.4,2.8,2.8,1.4]},
     "legend": {"orient": "top-left", "title": null, "labelExpr": "datum.label === '2017' ? 'Wet 2017' : 'Dry ' + datum.label"}}
   }}
 ]},
{"width": 434, "height": 223, "title": "2h: In-situ ET (daily average, ICOS)",
 "resolve": {"axis": {"x": "independent"}},
 "layer": [
  {"data": {"name": "bands"}, "mark": {"type": "rect", "opacity": 0.6},
   "encoding": {"x": {"field": "x1", "type": "quantitative", "scale": {"domain": [47.5, 344.5], "nice": false, "zero": false}, "axis": null}, "x2": {"field": "x2"},
    "fill": {"field": "b", "type": "nominal", "scale": {"domain": ["a","b","c","d"], "range": ["#c8ecc1","#6aa660","#8ec486","#f7bb93"]}, "legend": null}}},
  {"data": {"name": "h"}, "transform": [{"fold": ["2015","2016","2017","2018","2019"], "as": ["s","v"]}],
   "mark": {"type": "line", "strokeJoin": "round"},
   "encoding": {
    "x": {"field": "d", "type": "quantitative", "scale": {"domain": [47.5, 344.5], "nice": false, "zero": false},
     "axis": {"grid": true, "values": [50,60,70,80,90,100,110,120,130,140,150,160,170,180,190,200,210,220,230,240,250,260,270,280,290,300,310,320,330,340], "labelExpr": "''", "title": null,
      "gridColor": {"condition": {"test": "datum.value % 50 === 0", "value": "#ababab"}, "value": "#dddddd"},
      "tickSize": {"condition": {"test": "datum.value % 50 === 0", "value": 3.5}, "value": 2}}},
    "y": {"field": "v", "type": "quantitative", "scale": {"domain": [-0.38, 3.015], "nice": false, "zero": false},
     "axis": {"grid": true, "values": [-0.3,-0.2,-0.1,0,0.1,0.2,0.3,0.4,0.5,0.6,0.7,0.8,0.9,1,1.1,1.2,1.3,1.4,1.5,1.6,1.7,1.8,1.9,2,2.1,2.2,2.3,2.4,2.5,2.6,2.7,2.8,2.9,3], "format": ".1f", "labelExpr": "abs(round(datum.value*10)) % 5 === 0 ? datum.label : ''",
      "gridColor": {"condition": {"test": "abs(round(datum.value*10)) % 5 === 0", "value": "#ababab"}, "value": "#dddddd"},
      "tickSize": {"condition": {"test": "abs(round(datum.value*10)) % 5 === 0", "value": 3.5}, "value": 2},
      "title": ["Evapotranspiration", "[mm/day]"], "titleLineHeight": 16, "titlePadding": 2, "labelPadding": 2}},
    "color": {"field": "s", "type": "nominal", "scale": {"domain": ["2015","2016","2017","2018","2019"], "range": ["#bf5a52","#e23d33","#1414e6","#8a0a0a","#f0a49b"]},
     "legend": {"orient": "top-left", "title": null, "labelExpr": "datum.label === '2017' ? 'Wet 2017' : 'Dry ' + datum.label"}},
    "strokeWidth": {"field": "s", "type": "nominal", "scale": {"type": "ordinal", "domain": ["2015","2016","2017","2018","2019"], "range": [1.4,1.4,2.8,2.8,1.4]},
     "legend": {"orient": "top-left", "title": null, "labelExpr": "datum.label === '2017' ? 'Wet 2017' : 'Dry ' + datum.label"}}
   }}
 ]},
{"width": 424, "height": 223, "title": "2k: MODIS LAI (8-day composite, AMSR2)",
 "resolve": {"axis": {"x": "independent"}},
 "layer": [
  {"data": {"name": "bands"}, "mark": {"type": "rect", "opacity": 0.6},
   "encoding": {"x": {"field": "x1", "type": "quantitative", "scale": {"domain": [47.5, 338.5], "nice": false, "zero": false}, "axis": null}, "x2": {"field": "x2"},
    "fill": {"field": "b", "type": "nominal", "scale": {"domain": ["a","b","c","d"], "range": ["#c8ecc1","#6aa660","#8ec486","#f7bb93"]}, "legend": null}}},
  {"data": {"name": "k"}, "transform": [{"fold": ["2015","2016","2017","2018","2019"], "as": ["s","v"]}],
   "mark": {"type": "line", "strokeJoin": "round"},
   "encoding": {
    "x": {"field": "d", "type": "quantitative", "scale": {"domain": [47.5, 338.5], "nice": false, "zero": false},
     "axis": {"grid": true, "values": [50,60,70,80,90,100,110,120,130,140,150,160,170,180,190,200,210,220,230,240,250,260,270,280,290,300,310,320,330], "labelExpr": "''", "title": null,
      "gridColor": {"condition": {"test": "datum.value % 50 === 0", "value": "#ababab"}, "value": "#dddddd"},
      "tickSize": {"condition": {"test": "datum.value % 50 === 0", "value": 3.5}, "value": 2}}},
    "y": {"field": "v", "type": "quantitative", "scale": {"domain": [0.13, 4.56], "nice": false, "zero": false},
     "axis": {"grid": true, "values": [0.2,0.3,0.4,0.5,0.6,0.7,0.8,0.9,1,1.1,1.2,1.3,1.4,1.5,1.6,1.7,1.8,1.9,2,2.1,2.2,2.3,2.4,2.5,2.6,2.7,2.8,2.9,3,3.1,3.2,3.3,3.4,3.5,3.6,3.7,3.8,3.9,4,4.1,4.2,4.3,4.4,4.5], "format": ".1f", "labelExpr": "abs(round(datum.value*10)) % 5 === 0 ? datum.label : ''",
      "gridColor": {"condition": {"test": "abs(round(datum.value*10)) % 5 === 0", "value": "#ababab"}, "value": "#dddddd"},
      "tickSize": {"condition": {"test": "abs(round(datum.value*10)) % 5 === 0", "value": 3.5}, "value": 2},
      "title": ["Leaf Area Index", "[m²/m²]"], "titleLineHeight": 16, "titlePadding": 2, "labelPadding": 2}},
    "color": {"field": "s", "type": "nominal", "scale": {"domain": ["2015","2016","2017","2018","2019"], "range": ["#bf5a52","#e23d33","#1414e6","#8a0a0a","#f0a49b"]},
     "legend": {"orient": "top-left", "title": null, "labelExpr": "datum.label === '2017' ? 'Wet 2017' : 'Dry ' + datum.label"}},
    "strokeWidth": {"field": "s", "type": "nominal", "scale": {"type": "ordinal", "domain": ["2015","2016","2017","2018","2019"], "range": [1.4,1.4,2.8,2.8,1.4]},
     "legend": {"orient": "top-left", "title": null, "labelExpr": "datum.label === '2017' ? 'Wet 2017' : 'Dry ' + datum.label"}}
   }}
 ]},
{"width": 434, "height": 223, "title": "2i: In-situ Tair (daily P₉₅ₜₕ, ICOS)",
 "resolve": {"axis": {"x": "independent"}},
 "layer": [
  {"data": {"name": "bands"}, "mark": {"type": "rect", "opacity": 0.6},
   "encoding": {"x": {"field": "x1", "type": "quantitative", "scale": {"domain": [47.5, 344.5], "nice": false, "zero": false},
     "axis": {"orient": "bottom", "offset": 33, "values": [61,92,122,153,183,214,245,275,306,336], "labelExpr": "['Mar','Apr','May','Jun','Jul','Aug','Sep','Oct','Nov','Dez'][indexof([61,92,122,153,183,214,245,275,306,336], datum.value)]", "domain": true, "domainColor": "#999999", "tickColor": "#999999", "tickSize": 3, "grid": false, "title": null, "labelPadding": 1}},
    "x2": {"field": "x2"},
    "fill": {"field": "b", "type": "nominal", "scale": {"domain": ["a","b","c","d"], "range": ["#c8ecc1","#6aa660","#8ec486","#f7bb93"]}, "legend": null}}},
  {"data": {"name": "i"}, "transform": [{"fold": ["2015","2016","2017","2018","2019"], "as": ["s","v"]}],
   "mark": {"type": "line", "strokeJoin": "round"},
   "encoding": {
    "x": {"field": "d", "type": "quantitative", "scale": {"domain": [47.5, 344.5], "nice": false, "zero": false},
     "axis": {"grid": true, "orient": "bottom", "values": [50,60,70,80,90,100,110,120,130,140,150,160,170,180,190,200,210,220,230,240,250,260,270,280,290,300,310,320,330,340], "labelExpr": "datum.value % 50 === 0 ? datum.label : ''", "title": "DOY", "titleFontSize": 14, "titlePadding": 2, "labelPadding": 0,
      "gridColor": {"condition": {"test": "datum.value % 50 === 0", "value": "#ababab"}, "value": "#dddddd"},
      "tickSize": {"condition": {"test": "datum.value % 50 === 0", "value": 3}, "value": 2}}},
    "y": {"field": "v", "type": "quantitative", "scale": {"domain": [-0.75, 27.95], "nice": false, "zero": false},
     "axis": {"grid": true, "values": [0,1,2,3,4,5,6,7,8,9,10,11,12,13,14,15,16,17,18,19,20,21,22,23,24,25,26,27], "labelExpr": "datum.value % 5 === 0 ? datum.label : ''",
      "gridColor": {"condition": {"test": "datum.value % 5 === 0", "value": "#ababab"}, "value": "#dddddd"},
      "tickSize": {"condition": {"test": "datum.value % 5 === 0", "value": 3.5}, "value": 2},
      "title": ["Air Temperature₂ₘ", "[°C]"], "titleLineHeight": 16, "titlePadding": 2, "labelPadding": 2}},
    "color": {"field": "s", "type": "nominal", "scale": {"domain": ["2015","2016","2017","2018","2019"], "range": ["#bf5a52","#e23d33","#1414e6","#8a0a0a","#f0a49b"]},
     "legend": {"orient": "top-left", "title": null, "labelExpr": "datum.label === '2017' ? 'Wet 2017' : 'Dry ' + datum.label"}},
    "strokeWidth": {"field": "s", "type": "nominal", "scale": {"type": "ordinal", "domain": ["2015","2016","2017","2018","2019"], "range": [1.4,1.4,2.8,2.8,1.4]},
     "legend": {"orient": "top-left", "title": null, "labelExpr": "datum.label === '2017' ? 'Wet 2017' : 'Dry ' + datum.label"}}
   }}
 ]},
{"width": 424, "height": 223, "title": "2l: MODIS NDVI (daily, AMSR2)",
 "resolve": {"axis": {"x": "independent"}},
 "layer": [
  {"data": {"name": "bands"}, "mark": {"type": "rect", "opacity": 0.6},
   "encoding": {"x": {"field": "x1", "type": "quantitative", "scale": {"domain": [47.5, 338.5], "nice": false, "zero": false},
     "axis": {"orient": "bottom", "offset": 33, "values": [61,92,122,153,183,214,245,275,306,336], "labelExpr": "['Mar','Apr','May','Jun','Jul','Aug','Sep','Oct','Nov','Dez'][indexof([61,92,122,153,183,214,245,275,306,336], datum.value)]", "domain": true, "domainColor": "#999999", "tickColor": "#999999", "tickSize": 3, "grid": false, "title": null, "labelPadding": 1}},
    "x2": {"field": "x2"},
    "fill": {"field": "b", "type": "nominal", "scale": {"domain": ["a","b","c","d"], "range": ["#c8ecc1","#6aa660","#8ec486","#f7bb93"]}, "legend": null}}},
  {"data": {"name": "l"}, "transform": [{"fold": ["2015","2016","2017","2018","2019"], "as": ["s","v"]}],
   "mark": {"type": "line", "strokeJoin": "round"},
   "encoding": {
    "x": {"field": "d", "type": "quantitative", "scale": {"domain": [47.5, 338.5], "nice": false, "zero": false},
     "axis": {"grid": true, "orient": "bottom", "values": [50,60,70,80,90,100,110,120,130,140,150,160,170,180,190,200,210,220,230,240,250,260,270,280,290,300,310,320,330], "labelExpr": "datum.value % 50 === 0 ? datum.label : ''", "title": "DOY", "titleFontSize": 14, "titlePadding": 2, "labelPadding": 0,
      "gridColor": {"condition": {"test": "datum.value % 50 === 0", "value": "#ababab"}, "value": "#dddddd"},
      "tickSize": {"condition": {"test": "datum.value % 50 === 0", "value": 3}, "value": 2}}},
    "y": {"field": "v", "type": "quantitative", "scale": {"domain": [0.242, 0.869], "nice": false, "zero": false},
     "axis": {"grid": true, "values": [0.26,0.28,0.3,0.32,0.34,0.36,0.38,0.4,0.42,0.44,0.46,0.48,0.5,0.52,0.54,0.56,0.58,0.6,0.62,0.64,0.66,0.68,0.7,0.72,0.74,0.76,0.78,0.8,0.82,0.84,0.86], "format": ".1f", "labelExpr": "abs(round(datum.value*100)) % 10 === 0 ? datum.label : ''",
      "gridColor": {"condition": {"test": "abs(round(datum.value*100)) % 10 === 0", "value": "#ababab"}, "value": "#dddddd"},
      "tickSize": {"condition": {"test": "abs(round(datum.value*100)) % 10 === 0", "value": 3.5}, "value": 2},
      "title": ["Normalized Difference", "Vegetation Index [-]"], "titleLineHeight": 16, "titlePadding": 2, "labelPadding": 2}},
    "color": {"field": "s", "type": "nominal", "scale": {"domain": ["2015","2016","2017","2018","2019"], "range": ["#bf5a52","#e23d33","#1414e6","#8a0a0a","#f0a49b"]},
     "legend": {"orient": "top-left", "title": null, "labelExpr": "datum.label === '2017' ? 'Wet 2017' : 'Dry ' + datum.label"}},
    "strokeWidth": {"field": "s", "type": "nominal", "scale": {"type": "ordinal", "domain": ["2015","2016","2017","2018","2019"], "range": [1.4,1.4,2.8,2.8,1.4]},
     "legend": {"orient": "top-left", "title": null, "labelExpr": "datum.label === '2017' ? 'Wet 2017' : 'Dry ' + datum.label"}}
   }}
 ]}
]
}
